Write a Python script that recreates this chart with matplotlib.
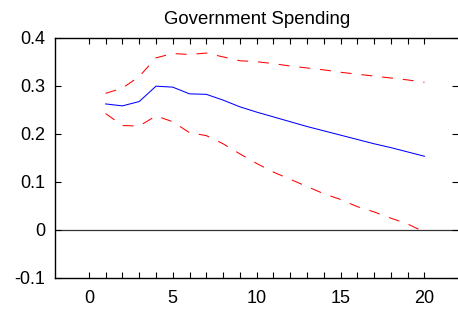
import numpy as np
import matplotlib
matplotlib.use("Agg")
from matplotlib import pyplot as plt
from matplotlib.ticker import FixedLocator, MultipleLocator

# horizon 1..20
periods = list(range(1, 21))
response = [0.262, 0.258, 0.267, 0.299, 0.297, 0.283, 0.282, 0.270, 0.256, 0.245,
            0.235, 0.225, 0.215, 0.206, 0.197, 0.188, 0.179, 0.171, 0.162, 0.153]
upper = [0.284, 0.295, 0.319, 0.358, 0.367, 0.365, 0.368, 0.360, 0.352, 0.350,
         0.346, 0.341, 0.337, 0.333, 0.328, 0.324, 0.320, 0.316, 0.312, 0.307]
lower = [0.242, 0.217, 0.216, 0.237, 0.225, 0.202, 0.196, 0.179, 0.158, 0.138,
         0.120, 0.105, 0.090, 0.075, 0.063, 0.048, 0.037, 0.024, 0.012, -0.005]
x_ticks = [0, 5, 10, 15, 20]
y_ticks = [-0.1, 0, 0.1, 0.2, 0.3, 0.4]

plt.rcParams.update({
    'font.family': ['Liberation Sans', 'DejaVu Sans'],
    'font.size': 13,
})

fig = plt.figure(figsize=(4.58, 3.09), dpi=100)
ax = fig.add_axes([55.3 / 458, 31.3 / 309, (458 - 55.3) / 458, 240 / 309])

ax.axhline(0, color='#333333', lw=0.9, zorder=1)
ax.plot(periods, upper, color='red', lw=0.75, dashes=(10.5, 9.5))
ax.plot(periods, lower, color='red', lw=0.75, dashes=(10.5, 9.5))
ax.plot(periods, response, color='blue', lw=0.75)

ax.set_xlim(-2, 22)
ax.set_ylim(-0.1, 0.4)
ax.set_xticks(x_ticks)
ax.xaxis.set_minor_locator(FixedLocator(list(range(0, 21))))
ax.set_yticks(y_ticks)
ax.set_yticklabels(['-0.1', '0', '0.1', '0.2', '0.3', '0.4'])

ax.tick_params(which='both', direction='in', top=True, right=True,
               length=4, width=0.8, labelsize=13, pad=7)
ax.tick_params(axis='x', pad=9)
ax.spines['right'].set_visible(False)
for s in ['left', 'top', 'bottom']:
    ax.spines[s].set_linewidth(1.0)

ax.set_title('Government Spending', fontsize=13.4, pad=10)

fig.savefig('out.png', dpi=100)
